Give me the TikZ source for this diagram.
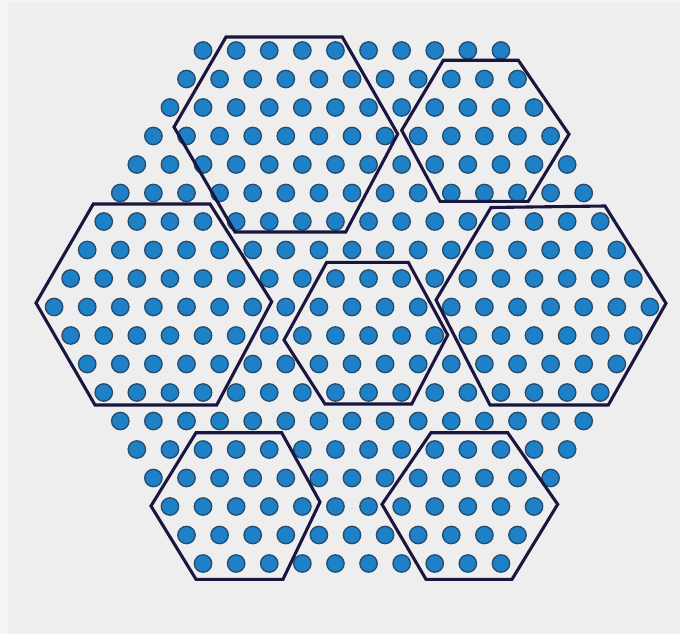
\documentclass[tikz,border=0pt]{standalone}
\definecolor{outerbg}{RGB}{245,245,245}
\definecolor{panelbg}{RGB}{238,238,238}
\definecolor{dotfill}{RGB}{30,128,198}
\definecolor{dotedge}{RGB}{38,76,108}
\definecolor{hexcol}{RGB}{27,22,64}
\begin{document}
\begin{tikzpicture}[x=1pt,y=-1pt,
  dot/.style={fill=dotfill,draw=dotedge,line width=1.3pt},
  hexline/.style={draw=hexcol,line width=3.1pt,line join=miter}]
\useasboundingbox (0,0) rectangle (680,634);
\fill[outerbg] (0,0) rectangle (680,634);
\fill[panelbg] (8,2) rectangle (680,634);
% lattice of dots
\foreach \j in {-9,...,9}{
  \pgfmathtruncatemacro\n{18-abs(\j)}
  \foreach \k in {0,...,\n}{
    \path[dot] ({352+(\k-\n/2)*33.1},{307+\j*28.5}) circle[radius=8.7pt];
  }
}
% hexagon outlines
\coordinate (h1a) at (226,37);   \coordinate (h1b) at (342.3,37);  \coordinate (h1c) at (397.7,134);
\coordinate (h1d) at (345.7,232); \coordinate (h1e) at (235,232);  \coordinate (h1f) at (174,127);
\draw[hexline] (h1a) -- (h1b) -- (h1c) -- (h1d) -- (h1e) -- (h1f) -- cycle;
\coordinate (h2a) at (443.3,60.3); \coordinate (h2b) at (518.3,60.3); \coordinate (h2c) at (569,134.3);
\coordinate (h2d) at (528.3,201.3); \coordinate (h2e) at (440,201.3); \coordinate (h2f) at (401.7,130.3);
\draw[hexline] (h2a) -- (h2b) -- (h2c) -- (h2d) -- (h2e) -- (h2f) -- cycle;
\coordinate (hla) at (93.3,204); \coordinate (hlb) at (210,204); \coordinate (hlc) at (271.7,301.7);
\coordinate (hld) at (216.7,405); \coordinate (hle) at (95,405); \coordinate (hlf) at (36,303);
\draw[hexline] (hla) -- (hlb) -- (hlc) -- (hld) -- (hle) -- (hlf) -- cycle;
\coordinate (hca) at (326.7,262.3); \coordinate (hcb) at (408.3,262.3); \coordinate (hcc) at (447.7,335);
\coordinate (hcd) at (411.7,404); \coordinate (hce) at (325,404); \coordinate (hcf) at (284,340);
\draw[hexline] (hca) -- (hcb) -- (hcc) -- (hcd) -- (hce) -- (hcf) -- cycle;
\coordinate (hra) at (491,207.5); \coordinate (hrb) at (605,206); \coordinate (hrc) at (666,303.3);
\coordinate (hrd) at (608.3,405); \coordinate (hre) at (490,405); \coordinate (hrf) at (436,300);
\draw[hexline] (hra) -- (hrb) -- (hrc) -- (hrd) -- (hre) -- (hrf) -- cycle;
\coordinate (bla) at (196,432.7); \coordinate (blb) at (281.7,432.7); \coordinate (blc) at (320,502);
\coordinate (bld) at (283,579.3); \coordinate (ble) at (196,579.3); \coordinate (blf) at (151,506);
\draw[hexline] (bla) -- (blb) -- (blc) -- (bld) -- (ble) -- (blf) -- cycle;
\coordinate (bra) at (431,432.7); \coordinate (brb) at (507.7,432.7); \coordinate (brc) at (557.7,504.3);
\coordinate (brd) at (512,579.3); \coordinate (bre) at (426,579.3); \coordinate (brf) at (382,504.3);
\draw[hexline] (bra) -- (brb) -- (brc) -- (brd) -- (bre) -- (brf) -- cycle;
\end{tikzpicture}
\end{document}
